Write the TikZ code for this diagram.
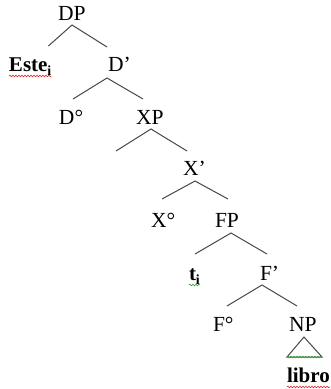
\documentclass[tikz,border=0pt]{standalone}
\usepackage{fontspec}
\setmainfont{Liberation Serif}
\usetikzlibrary{decorations.pathmorphing}
\definecolor{squigred}{RGB}{225,40,40}
\definecolor{squiggreen}{RGB}{50,160,50}
\begin{document}
\begin{tikzpicture}[x=1pt,y=-1pt,
  lbl/.style={anchor=base west,inner sep=0pt,outer sep=0pt,
    font=\fontsize{21.5}{26}\selectfont},
  blbl/.style={lbl,font=\fontsize{21}{26}\selectfont\bfseries},
  branch/.style={draw=black!72,line width=1pt},
  squig/.style={decorate,decoration={snake,amplitude=0.8pt,segment length=3pt},line width=0.6pt}]
\newcommand{\subi}{\raisebox{-4pt}{\fontsize{14}{14}\selectfont\bfseries i}}
\useasboundingbox (0,0) rectangle (330,389);
% nodes
\node[lbl] (DP) at (58,20) {DP};
\node[blbl] (Este) at (9,71) {Este\subi};
\node[lbl] (D1) at (108,71) {D’};
\node[lbl] (D0) at (59,124) {D°};
\node[lbl] (XP) at (136,124) {XP};
\coordinate (spec) at (116,151);
\node[lbl] (X1) at (183,175) {X’};
\node[lbl] (X0) at (151,227) {X°};
\node[lbl] (FP) at (215,227) {FP};
\node[blbl] (t) at (189,280) {t\subi};
\node[lbl] (F1) at (260,280) {F’};
\node[lbl] (F0) at (213,331) {F°};
\node[lbl] (NP) at (289,331) {NP};
\node[blbl] (libro) at (287,382) {libro};
% branches
\draw[branch] ([shift={(-3,-25)}]Este.base east) -- ([shift={(14,5)}]DP.base west) -- ([shift={(-1,-24)}]D1.base west);
\draw[branch] ([shift={(14,-25)}]D0.base west) -- ([shift={(-1,7)}]D1.base west) -- ([shift={(7,-25)}]XP.base west);
\draw[branch] (spec) -- ([shift={(15,5)}]XP.base west) -- ([shift={(4,-24)}]X1.base west);
\draw[branch] ([shift={(11,-28)}]X0.base west) -- ([shift={(12,6)}]X1.base west) -- ([shift={(13,-28)}]FP.base west);
\draw[branch] ([shift={(6,-26)}]t.base west) -- ([shift={(16,6)}]FP.base west) -- ([shift={(7,-26)}]F1.base west);
\draw[branch] ([shift={(14,-25)}]F0.base west) -- ([shift={(2,5)}]F1.base west) -- ([shift={(8,-25)}]NP.base west);
\draw[branch] ([shift={(0,-25)}]libro.base west) -- ([shift={(15,6)}]NP.base west) -- ([shift={(35,-25)}]libro.base west) -- cycle;
% spell-check underlines
\draw[squig,squigred] ([shift={(0,5)}]Este.base west) -- ([shift={(0,5)}]Este.base east);
\draw[squig,squiggreen] ([shift={(0,5)}]t.base west) -- ([shift={(0,5)}]t.base east);
\draw[squig,squiggreen] ([shift={(0,-25)}]libro.base west) -- ([shift={(35,-25)}]libro.base west);
\draw[squig,squigred] ([shift={(0,5)}]libro.base west) -- ([shift={(0,5)}]libro.base east);
\end{tikzpicture}
\end{document}
